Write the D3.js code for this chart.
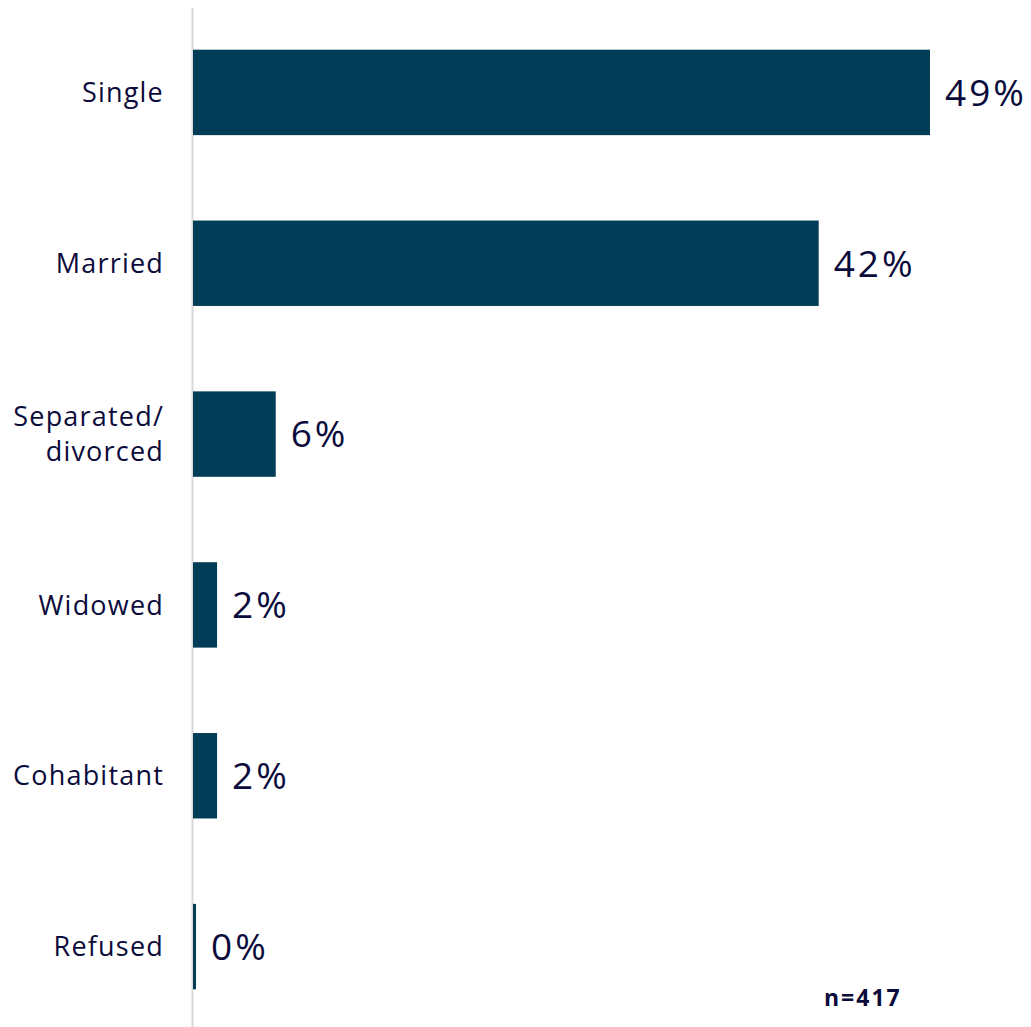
<!DOCTYPE html>
<html>
<head>
<meta charset="utf-8">
<script src="https://cdn.jsdelivr.net/npm/d3@7"></script>
<style>
body { margin:0; background:#fff; }
text { font-family: "Open Sans", Lato, sans-serif; }
</style>
</head>
<body>
<div id="chart"></div>
<script>
// Chart size
const W = 1031, H = 1027;
const left = 193;

// Data
const categories = ["Single", "Married", "Separated/\ndivorced", "Widowed", "Cohabitant", "Refused"];
const values = [49.0, 41.6, 5.5, 1.6, 1.6, 0.2];
const sampleNote = "n=417";

const data = categories.map((c, i) => ({cat:c, value:values[i]}));

const svg = d3.select("#chart")
.append("svg")
.attr("width", W)
.attr("height", H);

// Y scale
const y = d3.scaleBand()
.domain(categories)
.range([7, 1032])
.paddingInner(0.5)
.paddingOuter(0.25);

// X scale
const x = d3.scaleLinear()
.domain([0, 49])
.range([left, 930]);

// Axis line
svg.append("line")
.attr("x1", left - 0.5).attr("x2", left - 0.5)
.attr("y1", 8).attr("y2", H)
.attr("stroke", "#d9d9d9")
.attr("stroke-width", 2);

// Bars
svg.selectAll(".bar")
.data(data)
.enter()
.append("rect")
.attr("class","bar")
.attr("x", x(0))
.attr("y", d => y(d.cat))
.attr("width", d => x(d.value) - x(0))
.attr("height", y.bandwidth())
.attr("fill", "#023d57");

// Value labels
svg.selectAll(".val")
.data(data)
.enter()
.append("text")
.attr("class","val")
.attr("x", d => x(d.value) + 15)
.attr("y", d => y(d.cat) + y.bandwidth()/2)
.attr("dy", "0.36em")
.attr("font-size", 37)
.attr("letter-spacing", 3)
.attr("fill", "#0b0b3b")
.text(d => Math.round(d.value) + "%");

// Category labels
const lab = svg.selectAll(".cat")
.data(data)
.enter()
.append("text")
.attr("class","cat")
.attr("text-anchor", "end")
.attr("font-size", 27)
.attr("letter-spacing", 1.2)
.attr("fill", "#0b0b3b");

lab.each(function(d){
  const lines = d.cat.split("\n");
  const cy = y(d.cat) + y.bandwidth()/2;
  const lh = 35;
  lines.forEach((t, i) => {
    d3.select(this).append("tspan")
    .attr("x", 164)
    .attr("y", cy + (i - (lines.length-1)/2) * lh)
    .attr("dy", "0.36em")
    .text(t);
  });
});

// Sample size note
svg.append("text")
.attr("x", 824)
.attr("y", 1006)
.attr("font-size", 23)
.attr("font-weight", "bold")
.attr("letter-spacing", 2)
.attr("fill", "#0b0b3b")
.text(sampleNote);
</script>
</body>
</html>
